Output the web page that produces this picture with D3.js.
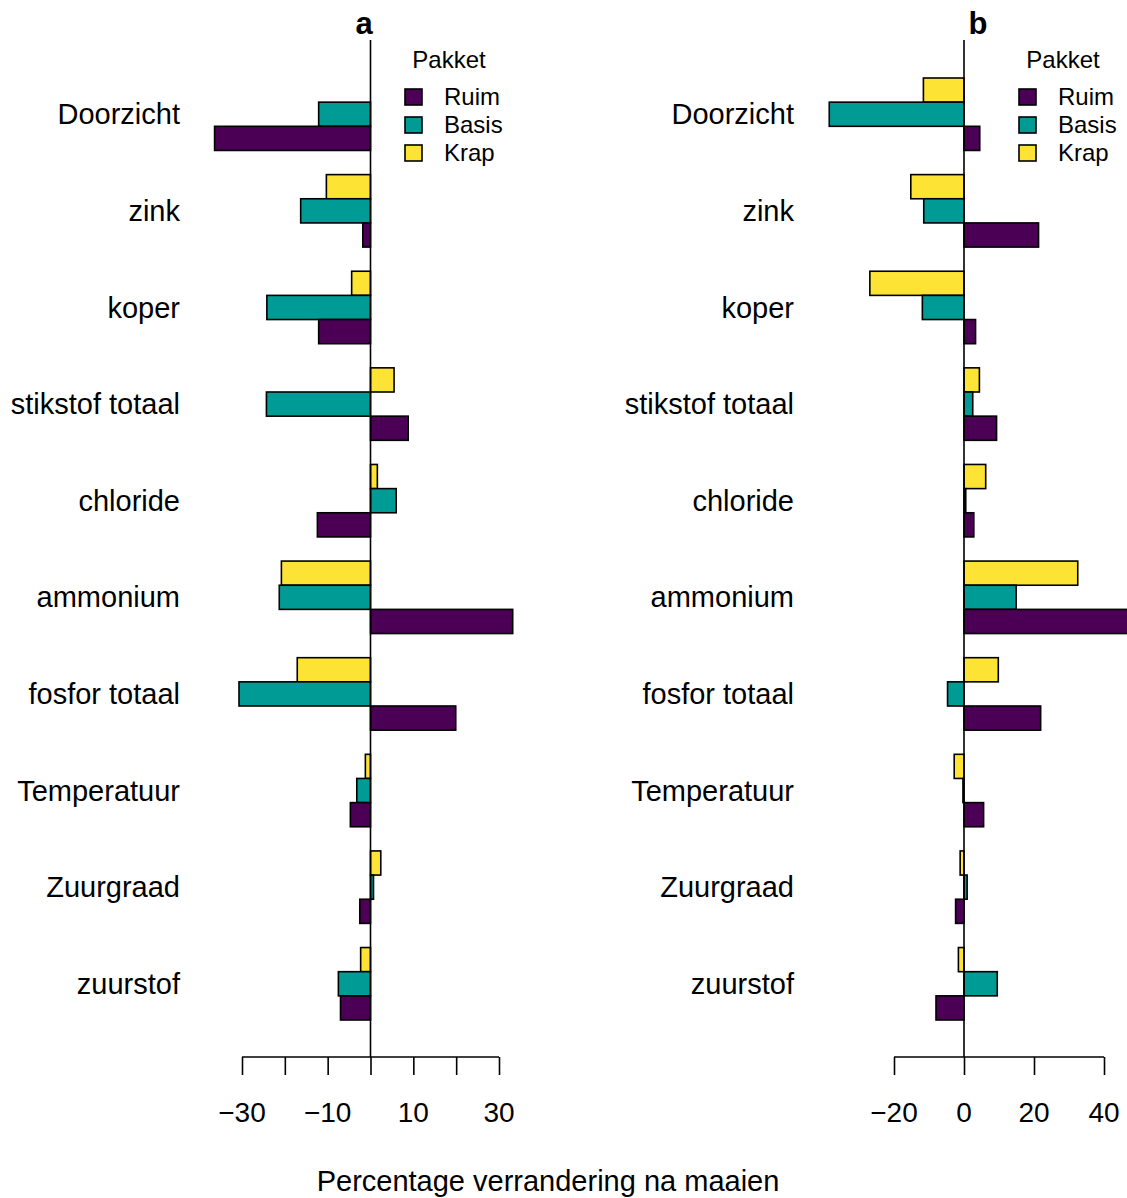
<!DOCTYPE html>
<html>
<head>
<meta charset="utf-8">
<script src="https://cdn.jsdelivr.net/npm/d3@7"></script>
<style>
  html, body { margin: 0; padding: 0; background: #fff; }
  text { font-family: "Liberation Sans", Arial, sans-serif; fill: #000; }
</style>
</head>
<body>
<svg id="chart" width="1127" height="1198"></svg>
<script>
const categories = ["Doorzicht", "zink", "koper", "stikstof totaal", "chloride", "ammonium", "fosfor totaal", "Temperatuur", "Zuurgraad", "zuurstof"];
const seriesNames = ["Ruim", "Basis", "Krap"];
const seriesColors = ["#4B0055", "#009B95", "#FDE333"];

// Panel a values (% change)
const aRuim  = [-36.4, -1.8, -12.1, 8.8, -12.4, 33.2, 19.9, -4.7, -2.5, -7.0];
const aBasis = [-12.1, -16.3, -24.2, -24.3, 6.0, -21.3, -30.7, -3.2, 0.7, -7.5];
const aKrap  = [0.0, -10.3, -4.4, 5.5, 1.6, -20.8, -17.1, -1.2, 2.4, -2.3];

// Panel b values (% change)
const bRuim  = [4.5, 21.3, 3.3, 9.3, 2.8, 48.0, 21.9, 5.6, -2.4, -8.0];
const bBasis = [-38.5, -11.5, -11.9, 2.5, 0.5, 14.9, -4.7, -0.3, 0.9, 9.5];
const bKrap  = [-11.6, -15.2, -26.9, 4.4, 6.2, 32.5, 9.8, -2.8, -1.1, -1.6];

const aTicks = [-30, -20, -10, 0, 10, 20, 30];
const aTickLabels = [-30, -10, 10, 30];
const bTicks = [-20, 0, 20, 40];
const bTickLabels = [-20, 0, 20, 40];

const svg = d3.select("#chart");

const y = d3.scaleBand().domain(categories).range([78, 1020]).paddingInner(0.25).paddingOuter(0);
const ySub = d3.scaleBand().domain(["Krap", "Basis", "Ruim"]).range([0, y.bandwidth()]);
const color = d3.scaleOrdinal().domain(seriesNames).range(seriesColors);

const fmt = v => (v < 0 ? "\u2212" + Math.abs(v) : String(v));

function panel(cfg) {
  const g = svg.append("g");
  const x = d3.scaleLinear().domain(cfg.domain).range(cfg.range);
  const data = [];
  categories.forEach((c, i) => {
    data.push({ cat: c, s: "Krap", v: cfg.krap[i] });
    data.push({ cat: c, s: "Basis", v: cfg.basis[i] });
    data.push({ cat: c, s: "Ruim", v: cfg.ruim[i] });
  });
  g.selectAll("rect.bar").data(data).join("rect")
    .attr("class", "bar")
    .attr("x", d => Math.min(x(0), x(d.v)))
    .attr("width", d => Math.abs(x(d.v) - x(0)))
    .attr("y", d => y(d.cat) + ySub(d.s))
    .attr("height", ySub.bandwidth())
    .attr("fill", d => color(d.s))
    .attr("stroke", "#000")
    .attr("stroke-width", 1.6);

  // zero line
  g.append("line")
    .attr("x1", x(0)).attr("x2", x(0))
    .attr("y1", 40).attr("y2", 1057)
    .attr("stroke", "#000").attr("stroke-width", 1.6);

  // category labels
  g.selectAll("text.cat").data(categories).join("text")
    .attr("class", "cat")
    .attr("x", cfg.labelX)
    .attr("y", d => y(d) + ySub("Basis") + ySub.bandwidth() / 2)
    .attr("dy", "0.35em")
    .attr("text-anchor", "end")
    .attr("font-size", 29)
    .text(d => d);

  // x axis
  const axisY = 1057;
  const ax = g.append("g").attr("transform", `translate(0,${axisY})`);
  ax.call(d3.axisBottom(x).tickValues(cfg.ticks).tickSize(18).tickFormat(""));
  ax.select(".domain").attr("d", `M${x(cfg.ticks[0])},0H${x(cfg.ticks[cfg.ticks.length - 1])}`)
    .attr("stroke", "#000").attr("stroke-width", 1.6);
  ax.selectAll(".tick line").attr("stroke", "#000").attr("stroke-width", 1.6);
  g.selectAll("text.tl").data(cfg.tickLabels).join("text")
    .attr("class", "tl")
    .attr("x", d => x(d))
    .attr("y", 1122)
    .attr("text-anchor", "middle")
    .attr("font-size", 28)
    .text(fmt);

  // panel title
  g.append("text")
    .attr("x", cfg.titleX).attr("y", 34)
    .attr("text-anchor", "middle")
    .attr("font-size", 31)
    .attr("font-weight", "bold")
    .text(cfg.title);

  // legend
  const lg = g.append("g");
  lg.append("text")
    .attr("x", cfg.legX + 44).attr("y", 68)
    .attr("text-anchor", "middle")
    .attr("font-size", 24)
    .text("Pakket");
  seriesNames.forEach((s, i) => {
    const cy = 97 + i * 28;
    lg.append("rect")
      .attr("x", cfg.legX).attr("y", cy - 8)
      .attr("width", 17).attr("height", 16)
      .attr("fill", color(s)).attr("stroke", "#000").attr("stroke-width", 1.6);
    lg.append("text")
      .attr("x", cfg.legX + 39).attr("y", cy)
      .attr("dy", "0.35em")
      .attr("font-size", 24)
      .text(s);
  });
}

panel({
  domain: [-30, 30], range: [242, 499],
  ruim: aRuim, basis: aBasis, krap: aKrap,
  ticks: aTicks, tickLabels: aTickLabels,
  labelX: 180, titleX: 364, title: "a", legX: 405
});

panel({
  domain: [-20, 40], range: [894, 1104],
  ruim: bRuim, basis: bBasis, krap: bKrap,
  ticks: bTicks, tickLabels: bTickLabels,
  labelX: 794, titleX: 978, title: "b", legX: 1019
});

svg.append("text")
  .attr("x", 548).attr("y", 1191)
  .attr("text-anchor", "middle")
  .attr("font-size", 29)
  .text("Percentage verrandering na maaien");
</script>
</body>
</html>
